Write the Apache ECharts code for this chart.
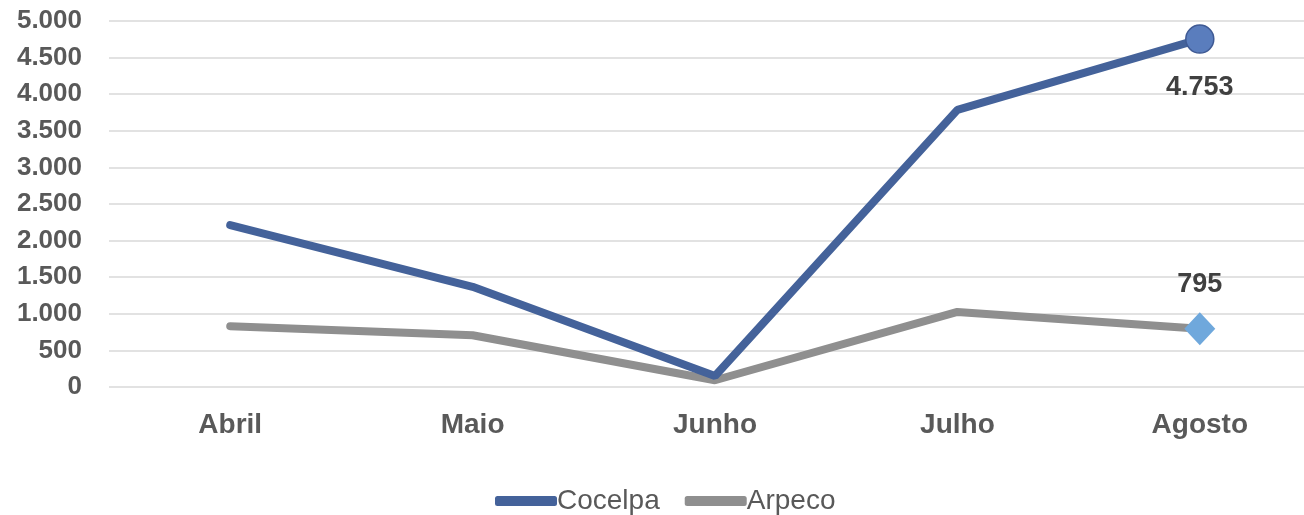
<!DOCTYPE html>
<html><head><meta charset="utf-8">
<script src="https://cdn.jsdelivr.net/npm/echarts@6/dist/echarts.min.js"></script>
<style>html,body{margin:0;padding:0;background:#fff;overflow:hidden}#c{width:1322px;height:515px}</style>
</head><body><div id="c"></div>
<script>
const categories = ['Abril', 'Maio', 'Junho', 'Julho', 'Agosto'];
const cocelpa = [2213, 1368, 150, 3786, 4753];
const arpeco = [830, 707, 92, 1026, 795];
const seriesNames = ['Cocelpa', 'Arpeco'];

function fmt(v) {
  return String(Math.round(v)).replace(/\B(?=(\d{3})+(?!\d))/g, '.');
}
const FONT = '"Liberation Sans", Arial, sans-serif';

function buildData(arr, lastOpts) {
  return arr.map((v, i) => i === arr.length - 1
    ? Object.assign({ value: v }, lastOpts)
    : { value: v, symbol: 'none' });
}

const chart = echarts.init(document.getElementById('c'));
chart.setOption({
  animation: false,
  textStyle: { fontFamily: FONT },
  grid: { left: 109, top: 21, width: 1212, height: 366, containLabel: false },
  legend: {
    top: 482, left: 490,
    itemWidth: 62, itemHeight: 10, itemGap: 25,
    icon: 'roundRect',
    textStyle: { fontFamily: FONT, fontSize: 28, color: '#595959', padding: [0, 0, 0, -5] },
    data: seriesNames
  },
  xAxis: {
    type: 'category', data: categories, boundaryGap: true,
    axisLine: { show: false }, axisTick: { show: false },
    axisLabel: { fontFamily: FONT, fontSize: 28, fontWeight: 'bold', color: '#595959', margin: 24 }
  },
  yAxis: {
    type: 'value', min: 0, max: 5000, interval: 500,
    axisLine: { show: false }, axisTick: { show: false },
    splitLine: { lineStyle: { color: '#d9d9d9', width: 1.5 } },
    axisLabel: { fontFamily: FONT, fontSize: 26, fontWeight: 'bold', color: '#595959', margin: 27, formatter: fmt }
  },
  series: [
    {
      name: seriesNames[0], type: 'line', z: 3,
      lineStyle: { width: 8, color: '#44629a', cap: 'round' },
      itemStyle: { color: '#44629a' },
      symbol: 'circle',
      data: buildData(cocelpa, {
        symbol: 'circle', symbolSize: 28,
        itemStyle: { color: '#5a7dbd', borderColor: '#3f5a94', borderWidth: 1.5 },
        label: { show: true, position: 'bottom', distance: 20, formatter: p => fmt(p.value),
          fontFamily: FONT, fontSize: 27, fontWeight: 'bold', color: '#404040' }
      })
    },
    {
      name: seriesNames[1], type: 'line', z: 2,
      lineStyle: { width: 8, color: '#8f8f8f', cap: 'round' },
      itemStyle: { color: '#8f8f8f' },
      symbol: 'circle',
      data: buildData(arpeco, {
        symbol: 'diamond', symbolSize: [31, 33],
        itemStyle: { color: '#6fa8dc', borderWidth: 0 },
        label: { show: true, position: 'top', distance: 14, formatter: p => fmt(p.value),
          fontFamily: FONT, fontSize: 27, fontWeight: 'bold', color: '#404040' }
      })
    }
  ]
});
</script>
</body></html>
